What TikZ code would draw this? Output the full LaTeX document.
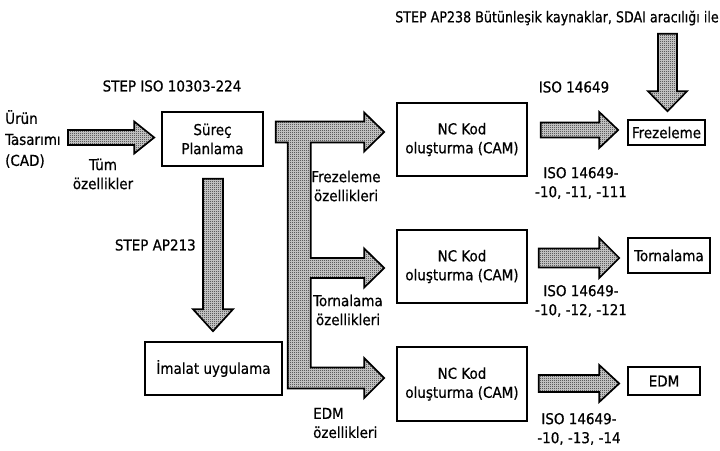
\documentclass[tikz,border=0pt]{standalone}
\usepackage{fontspec}
\setmainfont[FakeBold=0.6]{DejaVu Sans Condensed}
\usetikzlibrary{calc,patterns}

% fine checkerboard stipple used inside the block arrows
\pgfdeclarepatternformonly{stipple}{\pgfpointorigin}{\pgfpoint{2pt}{2pt}}{\pgfpoint{2pt}{2pt}}{%
  \pgfpathrectangle{\pgfpointorigin}{\pgfpoint{1pt}{1pt}}%
  \pgfpathrectangle{\pgfpoint{1pt}{1pt}}{\pgfpoint{1pt}{1pt}}%
  \pgfusepath{fill}}

\tikzset{
  box/.style={draw, line width=1.6pt, align=center, inner sep=0pt,
              font=\fontsize{15}{19}\selectfont},
  lbl/.style={inner sep=0pt, font=\fontsize{15}{19}\selectfont},
  blockarrow/.style={draw, line width=1.7pt, line join=miter,
                     preaction={fill=black!15},
                     pattern=stipple, pattern color=black!90},
}

% horizontal block arrow: start point, tip point, shaft half-width, head half-width, head length
\newcommand{\hblock}[5]{%
  \draw[blockarrow] let \p1=(#1), \p2=(#2) in
    (\x1,\y2+#3pt) -- (\x2-#5pt,\y2+#3pt) -- (\x2-#5pt,\y2+#4pt) -- (\x2,\y2)
    -- (\x2-#5pt,\y2-#4pt) -- (\x2-#5pt,\y2-#3pt) -- (\x1,\y2-#3pt) -- cycle;}

% downward block arrow: start point, tip point, shaft half-width, head half-width, head length
\newcommand{\vblock}[5]{%
  \draw[blockarrow] let \p1=(#1), \p2=(#2) in
    (\x2-#3pt,\y1) -- (\x2-#3pt,\y2+#5pt) -- (\x2-#4pt,\y2+#5pt) -- (\x2,\y2)
    -- (\x2+#4pt,\y2+#5pt) -- (\x2+#3pt,\y2+#5pt) -- (\x2+#3pt,\y1) -- cycle;}

\begin{document}
\begin{tikzpicture}[x=1pt,y=-1pt]
\useasboundingbox (0,0) rectangle (720,450);

% boxes
\node[box, minimum width=101pt, minimum height=54pt] (sp) at (212.5,139) {Süreç\\Planlama};
\node[box, minimum width=137pt, minimum height=53pt] (imalat) at (213.5,368.5) {İmalat uygulama};
\node[box, minimum width=130pt, minimum height=73pt] (nc1) at (462,139.5) {NC Kod\\oluşturma (CAM)};
\node[box, minimum width=130pt, minimum height=73pt] (nc2) at (462,266.5) {NC Kod\\oluşturma (CAM)};
\node[box, minimum width=130pt, minimum height=74pt] (nc3) at (462,384) {NC Kod\\oluşturma (CAM)};
\node[box, minimum width=77pt, minimum height=25pt] (frez) at (666.5,132.5) {Frezeleme};
\node[box, minimum width=82pt, minimum height=35pt] (torn) at (669,255.5) {Tornalama};
\node[box, minimum width=72pt, minimum height=28pt] (edm) at (664,381) {EDM};

% labels
\node[lbl] (ap238) at (557,18) {\scalebox{0.94}[1]{STEP AP238 Bütünleşik kaynaklar, SDAI aracılığı ile}};
\node[lbl] (iso224) at (172,86) {STEP ISO 10303-224};
\node[lbl, align=left, anchor=west, font=\fontsize{15}{21}\selectfont] (urun) at (5,139) {Ürün\\Tasarımı\\(CAD)};
\node[lbl, align=center] (tum) at (103,174) {Tüm\\özellikler};
\node[lbl, anchor=east] (ap213) at (196,245) {STEP AP213};
\node[lbl, align=center] (frezoz) at (346,186) {Frezeleme\\özellikleri};
\node[lbl, align=center] (tornoz) at (348,310) {Tornalama\\özellikleri};
\node[lbl, align=left, anchor=west] (edmoz) at (313,423) {EDM\\özellikleri};
\node[lbl] (iso) at (574,87) {ISO 14649};
\node[lbl, align=center] (iso1) at (581,183) {ISO 14649-\\-10, -11, -111};
\node[lbl, align=center] (iso2) at (581,301) {ISO 14649-\\-10, -12, -121};
\node[lbl, align=center] (iso3) at (579,429) {ISO 14649-\\-10, -13, -14};

% straight block arrows
\hblock{$(urun.east)+(7,0)$}{$(sp.west)+(-7,-1.5)$}{7.5}{16}{20}
\vblock{$(sp.south)+(0.5,12)$}{$(imalat.north)+(-0.5,-10)$}{10}{20}{22}
\hblock{$(nc1.east)+(13,0)$}{$(frez.west)+(-9,-2.5)$}{7.5}{18}{19}
\hblock{$(nc2.east)+(11,0)$}{$(torn.west)+(-8,2.5)$}{9.5}{20}{20}
\hblock{$(nc3.east)+(11,0)$}{$(edm.west)+(-8,2.5)$}{8.5}{18.5}{20}
\vblock{$(ap238.south)+(0,8)$}{$(frez.north)+(1,-8)$}{9.5}{19.5}{20}

% branching block arrow from process planning to the three NC code generators
\draw[blockarrow] let \p0=($(sp.east)+(12,0)$),
    \p1=($(nc1.west)+(-12,-7.5)$), \p2=($(nc2.west)+(-12,1.5)$), \p3=($(nc3.west)+(-12,-6)$) in
  (\x0,\y1+10.5pt) -- (\x1-20pt,\y1+10.5pt) -- (\x1-20pt,\y1+19.5pt) -- (\x1,\y1)
  -- (\x1-20pt,\y1-19.5pt) -- (\x1-20pt,\y1-10.5pt) -- (\x0+35pt,\y1-10.5pt)
  -- (\x0+35pt,\y2+10pt) -- (\x2-20pt,\y2+10pt) -- (\x2-20pt,\y2+19.5pt) -- (\x2,\y2)
  -- (\x2-20pt,\y2-19.5pt) -- (\x2-20pt,\y2-10pt) -- (\x0+35pt,\y2-10pt)
  -- (\x0+35pt,\y3+10.5pt) -- (\x3-20pt,\y3+10.5pt) -- (\x3-20pt,\y3+20pt) -- (\x3,\y3)
  -- (\x3-20pt,\y3-20pt) -- (\x3-20pt,\y3-10.5pt) -- (\x0+12pt,\y3-10.5pt)
  -- (\x0+12pt,\y1-10.5pt) -- (\x0,\y1-10.5pt) -- cycle;

\end{tikzpicture}
\end{document}
